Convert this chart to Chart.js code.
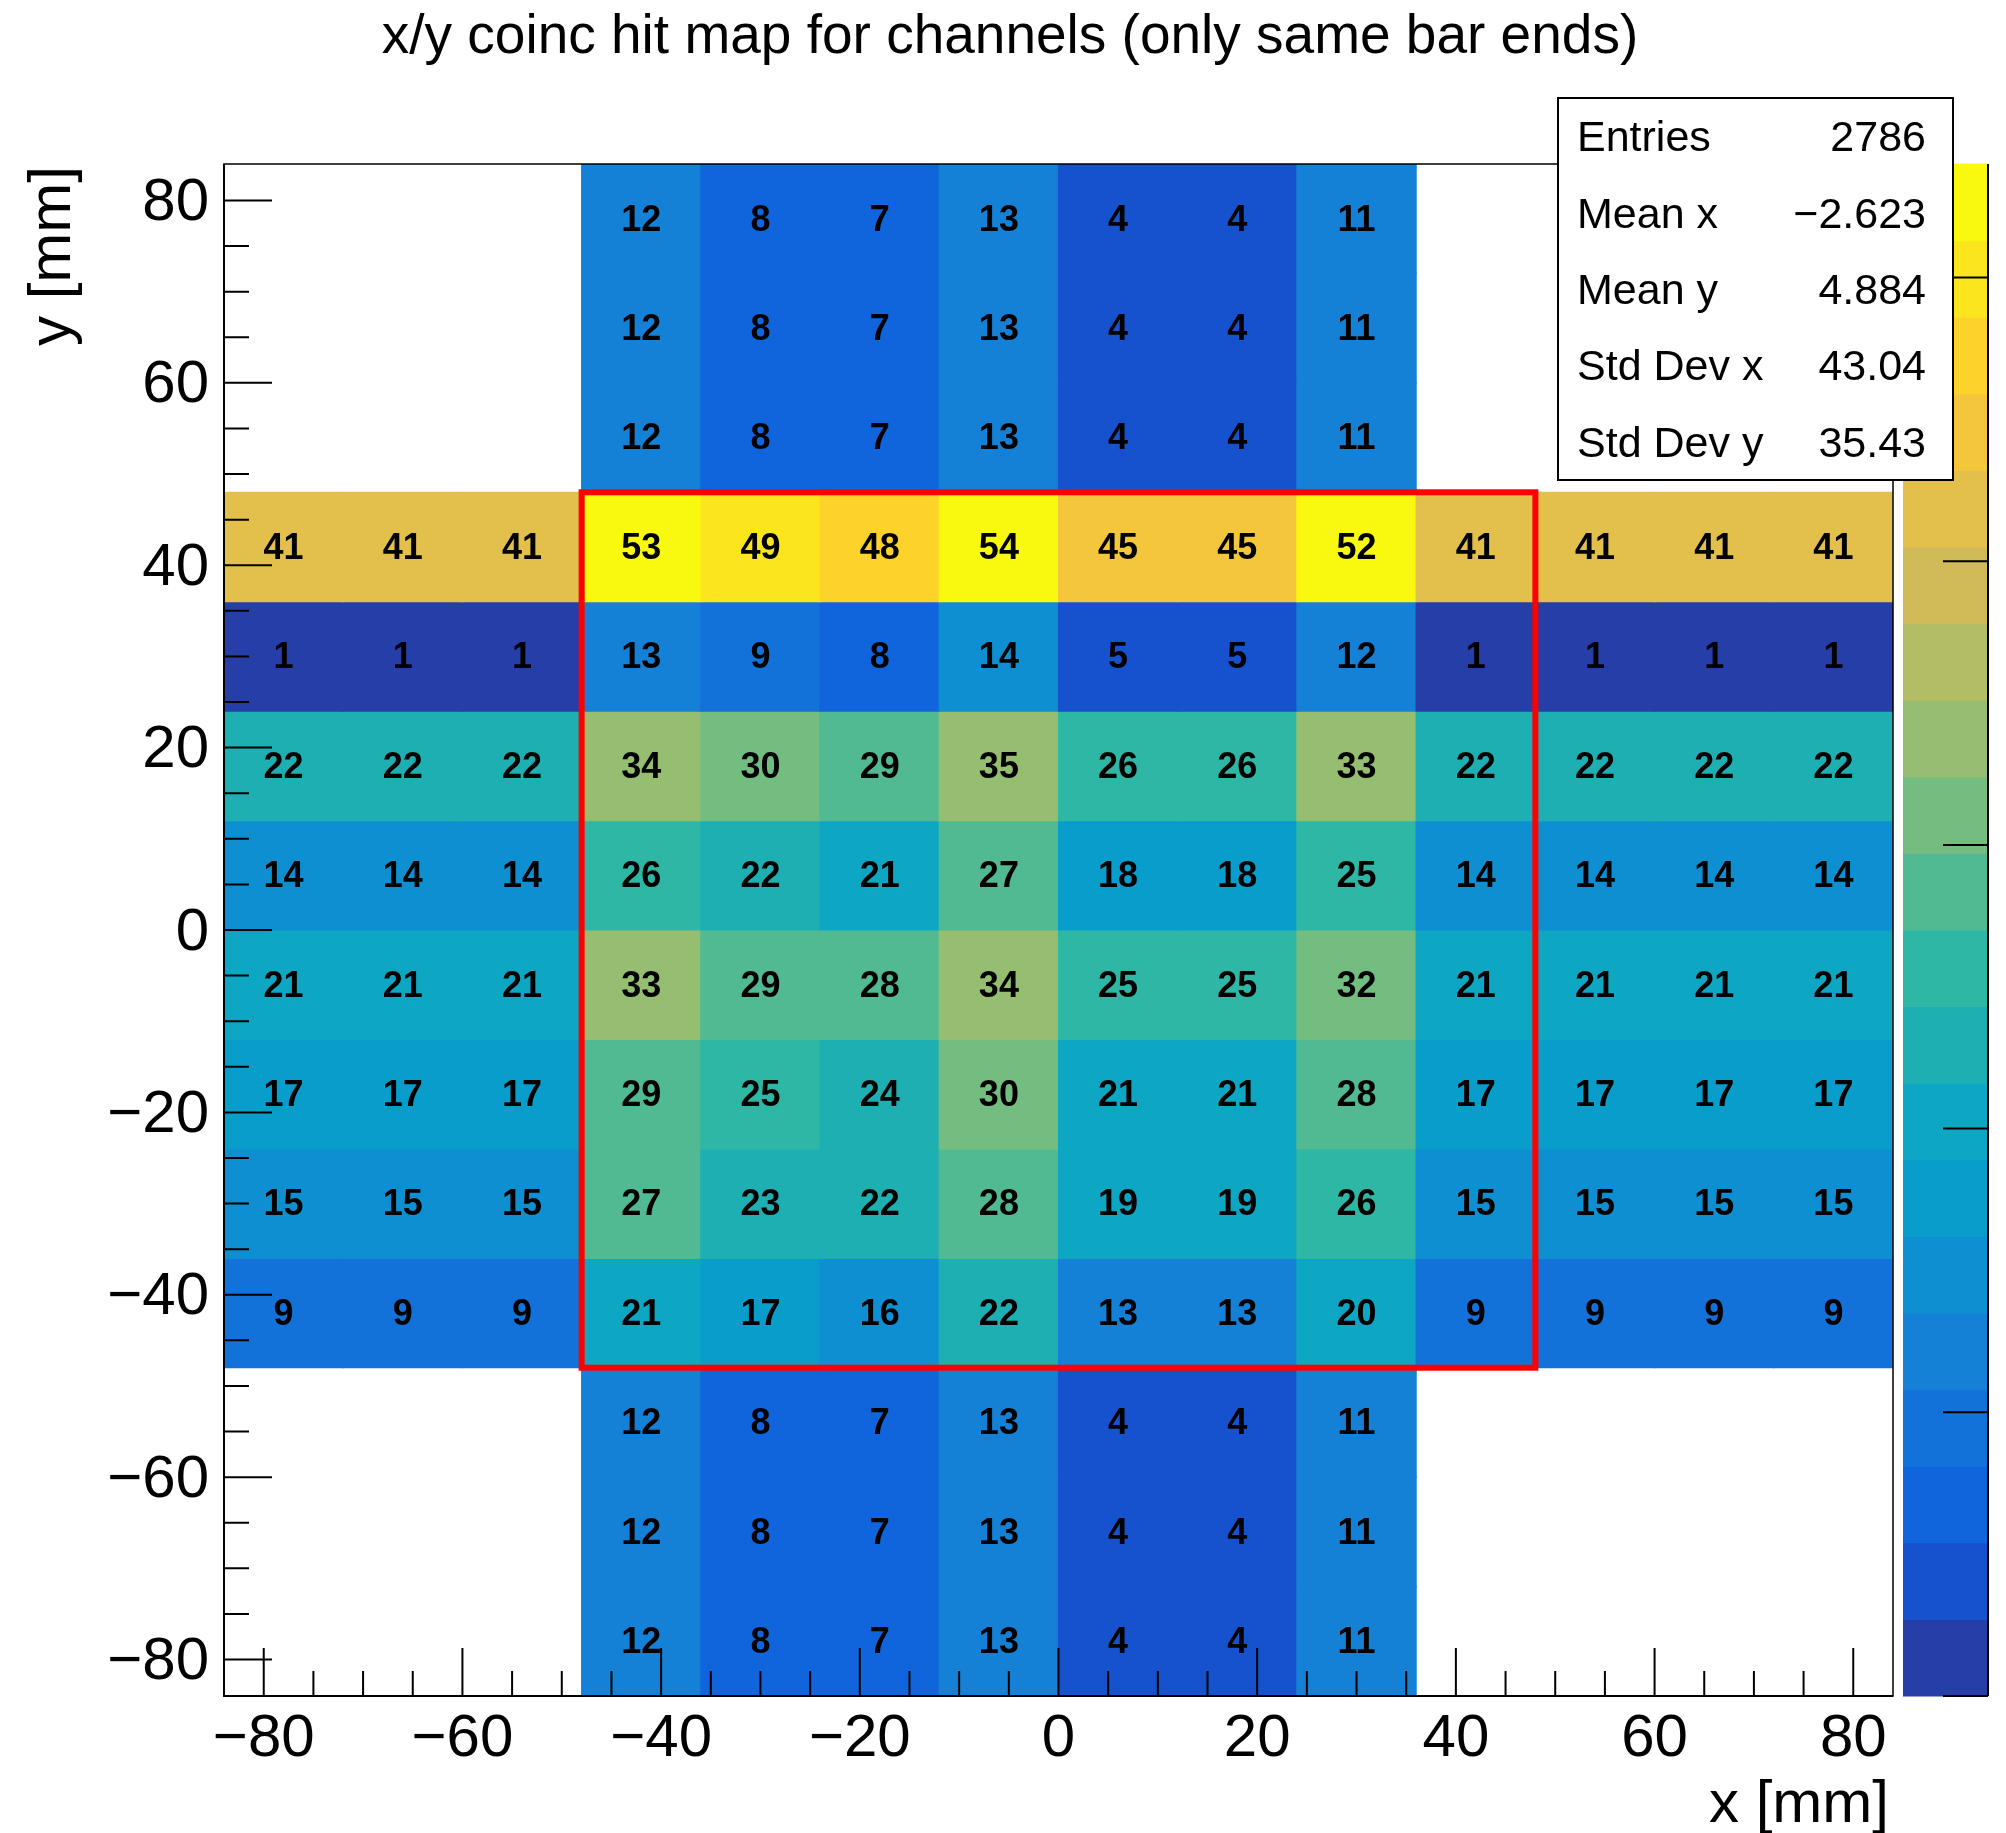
<!DOCTYPE html>
<html>
<head>
<meta charset="utf-8">
<title>x/y coinc hit map</title>
<script src="https://cdn.jsdelivr.net/npm/chart.js@4.4.1/dist/chart.umd.min.js"></script>
<style>
  html, body { margin: 0; padding: 0; background: #ffffff; }
  #wrap { width: 2006px; height: 1833px; position: relative; }
</style>
</head>
<body>
<div id="wrap"><canvas id="hitmap" width="2006" height="1833"></canvas></div>
<script>
// ---- binning (mm) ----
const xBinCentres = [-78, -66, -54, -42, -30, -18, -6, 6, 18, 30, 42, 54, 66, 78];
const yBinCentres = [78, 66, 54, 42, 30, 18, 6, -6, -18, -30, -42, -54, -66, -78];
const binWidth = 12;
const axisRange = [-84, 84];
const axisTicks = [-80, -60, -40, -20, 0, 20, 40, 60, 80];

// ---- coincidence counts per y row (x from -78 to 78); null = empty bin ----
const rowY78  = [null, null, null, 12, 8, 7, 13, 4, 4, 11, null, null, null, null];
const rowY66  = [null, null, null, 12, 8, 7, 13, 4, 4, 11, null, null, null, null];
const rowY54  = [null, null, null, 12, 8, 7, 13, 4, 4, 11, null, null, null, null];
const rowY42  = [41, 41, 41, 53, 49, 48, 54, 45, 45, 52, 41, 41, 41, 41];
const rowY30  = [1, 1, 1, 13, 9, 8, 14, 5, 5, 12, 1, 1, 1, 1];
const rowY18  = [22, 22, 22, 34, 30, 29, 35, 26, 26, 33, 22, 22, 22, 22];
const rowY6   = [14, 14, 14, 26, 22, 21, 27, 18, 18, 25, 14, 14, 14, 14];
const rowYm6  = [21, 21, 21, 33, 29, 28, 34, 25, 25, 32, 21, 21, 21, 21];
const rowYm18 = [17, 17, 17, 29, 25, 24, 30, 21, 21, 28, 17, 17, 17, 17];
const rowYm30 = [15, 15, 15, 27, 23, 22, 28, 19, 19, 26, 15, 15, 15, 15];
const rowYm42 = [9, 9, 9, 21, 17, 16, 22, 13, 13, 20, 9, 9, 9, 9];
const rowYm54 = [null, null, null, 12, 8, 7, 13, 4, 4, 11, null, null, null, null];
const rowYm66 = [null, null, null, 12, 8, 7, 13, 4, 4, 11, null, null, null, null];
const rowYm78 = [null, null, null, 12, 8, 7, 13, 4, 4, 11, null, null, null, null];
const countRows = [rowY78, rowY66, rowY54, rowY42, rowY30, rowY18, rowY6,
                   rowYm6, rowYm18, rowYm30, rowYm42, rowYm54, rowYm66, rowYm78];

// ---- colour axis ----
const zRange = [0, 54];
const zTicks = [0, 10, 20, 30, 40, 50];
const nLevels = 20;

// ---- same-bar-end region outline (mm) ----
const regionX = [-48, 48];
const regionY = [-48, 48];

// ---- statistics box ----
const statLabels = ['Entries', 'Mean x', 'Mean y', 'Std Dev x', 'Std Dev y'];
const statValues = ['2786', '\u22122.623', '4.884', '43.04', '35.43'];

const titleText = 'x/y coinc hit map for channels (only same bar ends)';
const xTitle = 'x [mm]';
const yTitle = 'y [mm]';

// ---- "bird" colour palette ----
const birdStops = [0.0000, 0.1250, 0.2500, 0.3750, 0.5000, 0.6250, 0.7500, 0.8750, 1.0000];
const birdRed   = [0.2082, 0.0592, 0.0780, 0.0232, 0.1802, 0.5301, 0.8186, 0.9956, 0.9764];
const birdGreen = [0.1664, 0.3599, 0.5041, 0.6419, 0.7178, 0.7492, 0.7328, 0.7862, 0.9832];
const birdBlue  = [0.5293, 0.8684, 0.8385, 0.7914, 0.6425, 0.4662, 0.3499, 0.1968, 0.0539];

function buildPalette(n) {
  const out = [];
  for (let g = 1; g < birdStops.length; g++) {
    const k = Math.floor(n * birdStops[g]) - Math.floor(n * birdStops[g - 1]);
    for (let c = 0; c < k; c++) {
      const r = birdRed[g - 1] + c * (birdRed[g] - birdRed[g - 1]) / k;
      const gg = birdGreen[g - 1] + c * (birdGreen[g] - birdGreen[g - 1]) / k;
      const b = birdBlue[g - 1] + c * (birdBlue[g] - birdBlue[g - 1]) / k;
      out.push('rgb(' + Math.round(r * 255) + ',' + Math.round(gg * 255) + ',' + Math.round(b * 255) + ')');
    }
  }
  return out;
}
const palette = buildPalette(255);
const levelColours = [];
for (let i = 0; i < nLevels; i++) {
  levelColours.push(palette[Math.floor((i + 0.99) * palette.length / nLevels)]);
}
function levelOf(z) {
  let lv = Math.floor(0.01 + (z - zRange[0]) * nLevels / (zRange[1] - zRange[0]));
  if (lv >= nLevels) lv = nLevels - 1;
  if (lv < 0) lv = 0;
  return lv;
}

// ---- one floating-bar dataset per y row ----
const datasets = yBinCentres.map((yc, r) => ({
  label: 'y = ' + yc,
  data: countRows[r]
    .map((z, c) => (z === null ? null : { x: xBinCentres[c], y: [yc - binWidth / 2, yc + binWidth / 2], z: z }))
    .filter(p => p !== null),
  backgroundColor: ctx => (ctx.raw ? levelColours[levelOf(ctx.raw.z)] : '#000'),
  borderWidth: 0,
  borderSkipped: false,
  barPercentage: 1,
  categoryPercentage: 1,
  grouped: false,
  inflateAmount: 0.6
}));

const FONT = "'Liberation Sans', Arial, Helvetica, sans-serif";
const fmtTick = v => (v < 0 ? '\u2212' + Math.abs(v) : String(v));

const rootStyle = {
  id: 'rootStyle',
  beforeDraw(chart) {
    const c = chart.ctx;
    c.save();
    c.fillStyle = '#ffffff';
    c.fillRect(0, 0, chart.width, chart.height);
    c.restore();
  },
  afterDatasetsDraw(chart) {
    const c = chart.ctx;
    const xs = chart.scales.x, ys = chart.scales.y;
    const area = chart.chartArea;

    // bin contents
    c.save();
    c.fillStyle = '#000000';
    c.font = 'bold 36px ' + FONT;
    c.textAlign = 'center';
    c.textBaseline = 'middle';
    chart.data.datasets.forEach((ds, di) => {
      const meta = chart.getDatasetMeta(di);
      meta.data.forEach((bar, i) => {
        const p = bar.getCenterPoint();
        c.fillText(String(ds.data[i].z), p.x, p.y + 2);
      });
    });
    c.restore();

    // region outline
    c.save();
    c.strokeStyle = '#ff0000';
    c.lineWidth = 6;
    const rx0 = xs.getPixelForValue(regionX[0]), rx1 = xs.getPixelForValue(regionX[1]);
    const ry0 = ys.getPixelForValue(regionY[1]), ry1 = ys.getPixelForValue(regionY[0]);
    c.strokeRect(rx0, ry0, rx1 - rx0, ry1 - ry0);
    c.restore();

    // frame
    c.save();
    c.strokeStyle = '#000000';
    c.lineWidth = 1.5;
    c.strokeRect(area.left, area.top, area.right - area.left, area.bottom - area.top);
    c.lineWidth = 2;
    c.beginPath();
    c.moveTo(area.left, area.top); c.lineTo(area.left, area.bottom); c.lineTo(area.right, area.bottom);
    c.stroke();

    // inward ticks: major every 20, minor every 5
    c.beginPath();
    for (let v = -80; v <= 80; v += 5) {
      const len = (v % 20 === 0) ? 48 : 25;
      const px = xs.getPixelForValue(v);
      c.moveTo(px, area.bottom); c.lineTo(px, area.bottom - len);
      const py = ys.getPixelForValue(v);
      c.moveTo(area.left, py); c.lineTo(area.left + len, py);
    }
    c.stroke();
    c.restore();
  },
  afterDraw(chart) {
    const c = chart.ctx;
    const area = chart.chartArea;
    const zs = chart.scales.z;

    // colour palette
    const palL = area.right + 10, palR = area.right + 95;
    c.save();
    for (let i = 0; i < nLevels; i++) {
      const z0 = zRange[0] + i * (zRange[1] - zRange[0]) / nLevels;
      const z1 = zRange[0] + (i + 1) * (zRange[1] - zRange[0]) / nLevels;
      const y0 = zs.getPixelForValue(z0), y1 = zs.getPixelForValue(z1);
      c.fillStyle = levelColours[i];
      c.fillRect(palL, y1 - 0.5, palR - palL, y0 - y1 + 1);
    }
    c.strokeStyle = '#000000';
    c.lineWidth = 2;
    c.beginPath();
    c.moveTo(palR, zs.getPixelForValue(zRange[0]));
    c.lineTo(palR, zs.getPixelForValue(zRange[1]));
    zTicks.forEach(v => {
      const py = zs.getPixelForValue(v);
      c.moveTo(palR, py); c.lineTo(palR - 45, py);
    });
    c.stroke();
    c.restore();

    // title and axis titles
    c.save();
    c.fillStyle = '#000000';
    c.font = '55px ' + FONT;
    c.textAlign = 'center';
    c.textBaseline = 'alphabetic';
    c.fillText(titleText, 1010, 53);
    c.font = '60px ' + FONT;
    c.textAlign = 'right';
    c.fillText(xTitle, area.right - 4, 1822);
    c.translate(70, area.top + 2);
    c.rotate(-Math.PI / 2);
    c.textAlign = 'right';
    c.fillText(yTitle, 0, 0);
    c.restore();

    // statistics box
    const bx = 1558, by = 98, bw = 395, bh = 382;
    c.save();
    c.fillStyle = '#ffffff';
    c.fillRect(bx, by, bw, bh);
    c.strokeStyle = '#000000';
    c.lineWidth = 2;
    c.strokeRect(bx, by, bw, bh);
    c.fillStyle = '#000000';
    c.font = '43px ' + FONT;
    c.textBaseline = 'alphabetic';
    const lh = bh / statLabels.length;
    statLabels.forEach((lab, i) => {
      const base = by + (i + 0.5) * lh + 15;
      c.textAlign = 'left';
      c.fillText(lab, bx + 19, base);
      c.textAlign = 'right';
      c.fillText(statValues[i], bx + bw - 27, base);
    });
    c.restore();
  }
};

const tickFont = { family: FONT, size: 60 };

new Chart(document.getElementById('hitmap'), {
  type: 'bar',
  data: { datasets: datasets },
  options: {
    responsive: false,
    animation: false,
    devicePixelRatio: 1,
    layout: { padding: { top: 164, right: 0, bottom: 0, left: 0 } },
    plugins: { legend: { display: false }, tooltip: { enabled: false }, title: { display: false } },
    scales: {
      x: {
        type: 'linear',
        position: 'bottom',
        min: axisRange[0], max: axisRange[1],
        offset: false,
        grid: { display: false, drawTicks: false },
        border: { display: false },
        ticks: { font: tickFont, color: '#000000', padding: 7, maxRotation: 0, autoSkip: false,
                 callback: v => fmtTick(v) },
        afterBuildTicks: s => { s.ticks = axisTicks.map(v => ({ value: v })); },
        afterFit: s => { s.height = 137; }
      },
      y: {
        type: 'linear',
        position: 'left',
        min: axisRange[0], max: axisRange[1],
        grid: { display: false, drawTicks: false },
        border: { display: false },
        ticks: { font: tickFont, color: '#000000', padding: 15, autoSkip: false, labelOffset: 3,
                 callback: v => fmtTick(v) },
        afterBuildTicks: s => { s.ticks = axisTicks.map(v => ({ value: v })); },
        afterFit: s => { s.width = 224; }
      },
      z: {
        type: 'linear',
        position: 'right',
        min: zRange[0], max: zRange[1],
        grid: { display: false, drawTicks: false },
        border: { display: false },
        ticks: { display: false },
        afterFit: s => { s.width = 113; }
      }
    }
  },
  plugins: [rootStyle]
});
</script>
</body>
</html>
